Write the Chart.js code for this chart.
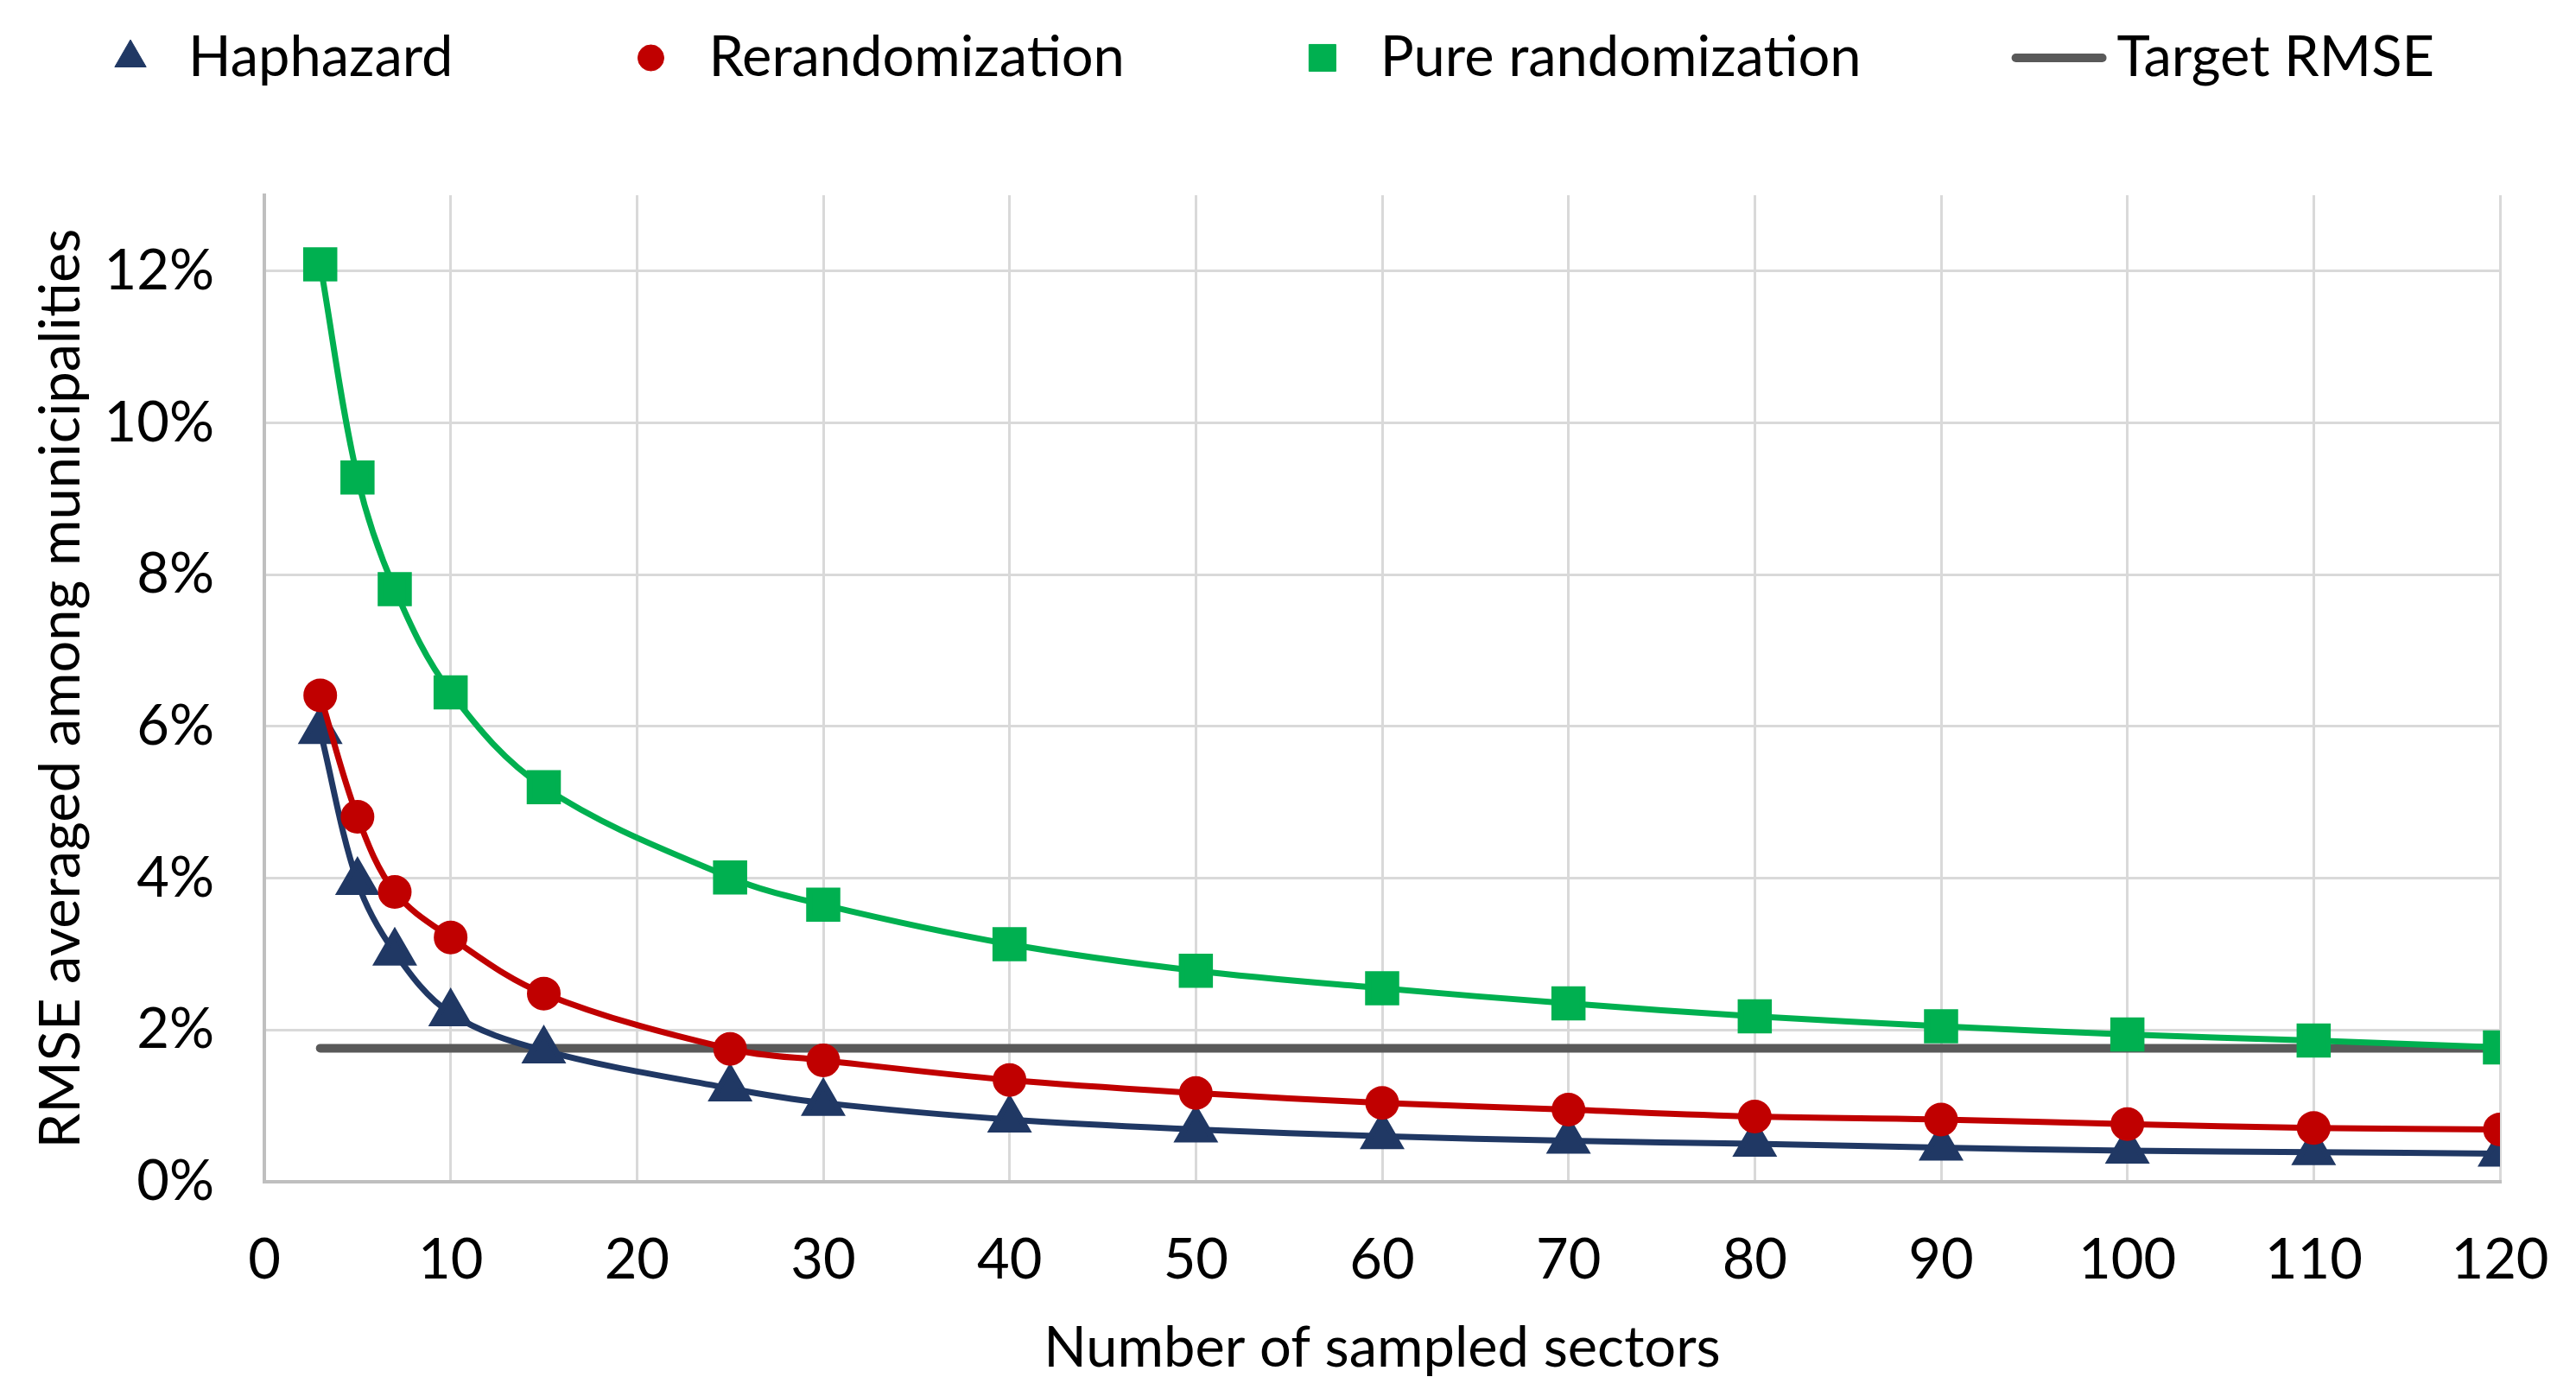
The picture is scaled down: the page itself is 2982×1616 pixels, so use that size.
<!DOCTYPE html>
<html>
<head>
<meta charset="utf-8">
<script src="https://cdn.jsdelivr.net/npm/chart.js@4.4.1/dist/chart.umd.min.js"></script>
<style>
  html, body { margin: 0; padding: 0; background: #fff; }
  #wrap { width: 2982px; height: 1616px; }
</style>
</head>
<body>
<div id="wrap"><canvas id="rmse-chart"></canvas></div>
<script>
// values, RMSE in %
const sectors = [3, 5, 7, 10, 15, 25, 30, 40, 50, 60, 70, 80, 90, 100, 110, 120];
const haphazard = [5.94, 3.95, 3.02, 2.22, 1.73, 1.23, 1.04, 0.82, 0.69, 0.60, 0.54, 0.50, 0.45, 0.41, 0.39, 0.37];
const rerandomization = [6.41, 4.81, 3.82, 3.22, 2.48, 1.75, 1.60, 1.34, 1.17, 1.04, 0.95, 0.86, 0.82, 0.76, 0.71, 0.69];
const pureRandomization = [12.09, 9.28, 7.81, 6.45, 5.20, 4.01, 3.65, 3.13, 2.78, 2.55, 2.35, 2.18, 2.05, 1.94, 1.86, 1.77];
const targetSectors = [3, 120];
const targetRmse = [1.76, 1.76];

const NAVY = '#203864';
const RED = '#C00000';
const GREEN = '#00B050';
const GRAY = '#595959';
const FONT = 65;

function pts(xs, ys) {
  return xs.map(function (x, i) { return { x: x, y: ys[i] }; });
}

const legendItems = [
  { text: 'Haphazard', pointStyle: 'triangle', radius: 21, color: NAVY },
  { text: 'Rerandomization', pointStyle: 'circle', radius: 15, color: RED },
  { text: 'Pure randomization', pointStyle: 'rect', radius: 22, color: GREEN },
  { text: 'Target RMSE', line: true, color: GRAY }
];

// legend spread out like the original, drawn on the canvas
const topLegend = {
  id: 'topLegend',
  afterDraw: function (chart) {
    const ctx = chart.ctx;
    const y = 67;
    ctx.save();
    ctx.font = FONT + 'px Lato';
    ctx.textBaseline = 'middle';
    ctx.textAlign = 'left';
    var total = 19;
    legendItems.forEach(function (it, i) {
      total += 67 + ctx.measureText(it.text).width;
      if (i > 0) total += 229;
    });
    var x = (chart.width - total) / 2 + 3;
    legendItems.forEach(function (it) {
      if (it.line) {
        ctx.strokeStyle = it.color;
        ctx.lineWidth = 10;
        ctx.lineCap = 'round';
        ctx.beginPath();
        ctx.moveTo(x - 50, y);
        ctx.lineTo(x + 50, y);
        ctx.stroke();
      } else {
        ctx.fillStyle = it.color;
        ctx.strokeStyle = it.color;
        Chart.helpers.drawPoint(ctx, { pointStyle: it.pointStyle, radius: it.radius, rotation: 0, borderWidth: 1 }, x, y);
      }
      ctx.fillStyle = '#000';
      ctx.fillText(it.text, x + 67, y);
      x += 67 + ctx.measureText(it.text).width + 229;
    });
    ctx.restore();
  }
};

Chart.defaults.font.family = 'Lato';
Chart.defaults.font.size = FONT;
Chart.defaults.color = '#000';

new Chart(document.getElementById('rmse-chart'), {
  type: 'line',
  data: {
    datasets: [{
      label: 'Haphazard',
      data: pts(sectors, haphazard),
      borderColor: NAVY,
      backgroundColor: NAVY,
      borderWidth: 7,
      pointStyle: 'triangle',
      pointRadius: 23,
      tension: 0.35,
      order: 3
    }, {
      label: 'Rerandomization',
      data: pts(sectors, rerandomization),
      borderColor: RED,
      backgroundColor: RED,
      borderWidth: 7,
      pointStyle: 'circle',
      pointRadius: 16,
      tension: 0.35,
      order: 2
    }, {
      label: 'Pure randomization',
      data: pts(sectors, pureRandomization),
      borderColor: GREEN,
      backgroundColor: GREEN,
      borderWidth: 7,
      pointStyle: 'rect',
      pointRadius: 23,
      tension: 0.35,
      order: 1
    }, {
      label: 'Target RMSE',
      data: pts(targetSectors, targetRmse),
      borderColor: GRAY,
      backgroundColor: GRAY,
      borderWidth: 10,
      borderCapStyle: 'round',
      pointRadius: 0,
      order: 10
    }]
  },
  options: {
    responsive: true,
    maintainAspectRatio: false,
    devicePixelRatio: 1,
    animation: false,
    layout: { padding: { top: 226, right: 88, bottom: 0, left: 0 } },
    plugins: {
      legend: { display: false },
      tooltip: { enabled: false }
    },
    scales: {
      x: {
        type: 'linear',
        min: 0,
        max: 120,
        ticks: { stepSize: 10, padding: 52 },
        grid: { color: '#d9d9d9', lineWidth: 3, drawTicks: false },
        border: { color: '#bfbfbf', width: 4 },
        title: { display: true, text: 'Number of sampled sectors', padding: { top: 0, bottom: 16 } },
        afterFit: function (s) {
          s.height = 248;
          s.paddingLeft = 0;
          s.paddingRight = 0;
        }
      },
      y: {
        min: 0,
        max: 13,
        ticks: {
          stepSize: 2,
          includeBounds: false,
          padding: 58,
          callback: function (v) { return v + '%'; }
        },
        grid: { color: '#d9d9d9', lineWidth: 3, drawTicks: false },
        border: { color: '#bfbfbf', width: 4 },
        title: { display: true, text: 'RMSE averaged among municipalities', padding: { top: 32, bottom: 0 } },
        afterFit: function (s) { s.width = 306; }
      }
    }
  },
  plugins: [topLegend]
});
</script>
</body>
</html>
